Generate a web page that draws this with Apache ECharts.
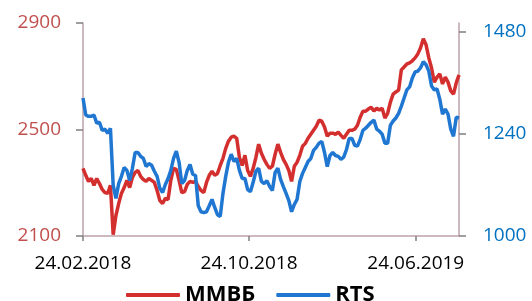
<!DOCTYPE html>
<html>
<head>
<meta charset="utf-8">
<script src="https://cdn.jsdelivr.net/npm/echarts@6/dist/echarts.min.js"></script>
<style>
  html, body { margin: 0; padding: 0; background: #fff; }
  #chart { width: 532px; height: 301px; }
</style>
</head>
<body>
<div id="chart"></div>
<script>
  // ММВБ, левая шкала (одна точка на 4 дня)
  const mmvb = [
    2354, 2328, 2305, 2316, 2290, 2316, 2297, 2275, 2263, 2260,
    2290, 2105, 2177, 2222, 2260, 2282, 2309, 2282, 2320, 2339,
    2346, 2324, 2312, 2305, 2316, 2309, 2301, 2271, 2233, 2222,
    2241, 2237, 2309, 2354, 2350, 2309, 2263, 2267, 2294, 2305,
    2301, 2305, 2286, 2271, 2263, 2301, 2328, 2343, 2328, 2335,
    2365, 2392, 2429, 2456, 2471, 2475, 2467, 2395, 2365, 2403,
    2346, 2324, 2354, 2395, 2445, 2411, 2388, 2369, 2354, 2362,
    2407, 2445, 2414, 2388, 2369, 2346, 2305, 2362, 2377, 2403,
    2437, 2448, 2467, 2482, 2497, 2512, 2535, 2531, 2509, 2475,
    2486, 2486, 2482, 2490, 2478, 2467, 2482, 2497, 2497, 2501,
    2516, 2546, 2569, 2569, 2577, 2584, 2569, 2580, 2573, 2580,
    2543, 2561, 2603, 2633, 2641, 2648, 2724, 2735, 2746, 2750,
    2758, 2769, 2784, 2807, 2841, 2818, 2769, 2731, 2678, 2697,
    2709, 2671, 2697, 2678, 2645, 2633, 2675, 2705
  ];
  // RTS, правая шкала
  const rts = [
    1324, 1284, 1281, 1281, 1284, 1265, 1267, 1248, 1251, 1241,
    1253, 1119, 1088, 1123, 1140, 1161, 1154, 1130, 1159, 1196,
    1196, 1187, 1182, 1163, 1170, 1166, 1152, 1140, 1112, 1102,
    1121, 1135, 1154, 1182, 1199, 1173, 1123, 1130, 1154, 1168,
    1145, 1142, 1071, 1057, 1055, 1057, 1071, 1086, 1067, 1050,
    1046, 1100, 1140, 1173, 1192, 1175, 1182, 1154, 1135, 1135,
    1109, 1104, 1126, 1152, 1159, 1128, 1123, 1130, 1116, 1107,
    1149, 1159, 1133, 1116, 1100, 1083, 1057, 1074, 1086, 1128,
    1147, 1161, 1175, 1182, 1201, 1208, 1218, 1222, 1196, 1163,
    1189, 1196, 1189, 1187, 1180, 1185, 1203, 1229, 1229, 1213,
    1211, 1227, 1248, 1253, 1260, 1267, 1272, 1251, 1246, 1239,
    1218, 1218, 1260, 1270, 1277, 1288, 1305, 1324, 1343, 1350,
    1371, 1385, 1387, 1395, 1409, 1402, 1387, 1352, 1343, 1345,
    1321, 1286, 1298, 1286, 1251, 1234, 1279, 1277
  ];
  const startDate = new Date(2018, 1, 24);
  const stepDays = 4;
  const tickDates = [new Date(2018, 1, 24), new Date(2018, 9, 24), new Date(2019, 5, 24)];
  const leftTicks = [2100, 2500, 2900];
  const rightTicks = [1000, 1240, 1480];

  const DAY = 86400000;
  // ось X в днях от начальной даты
  const days = mmvb.map((_, i) => i * stepDays);
  const dayTicks = tickDates.map(d => Math.round((d - startDate) / DAY));

  function fmtDate(v) {
    const d = new Date(startDate);
    d.setDate(d.getDate() + Math.round(v));
    const p = n => (n < 10 ? '0' : '') + n;
    return p(d.getDate()) + '.' + p(d.getMonth() + 1) + '.' + d.getFullYear();
  }

  const axisColor = '#BDA2A9';
  const font = 'Open Sans';

  const chart = echarts.init(document.getElementById('chart'));
  chart.setOption({
    animation: false,
    grid: { left: 83, right: 73, top: 23, bottom: 65 },
    legend: {
      data: ['ММВБ', 'RTS'],
      left: 121,
      top: 279,
      icon: 'roundRect',
      itemWidth: 54,
      itemHeight: 4,
      itemGap: 21,
      textStyle: { fontFamily: font, fontWeight: 'bold', fontSize: 22, color: '#000' }
    },
    xAxis: {
      type: 'value',
      min: 0,
      max: days[days.length - 1],
      axisLine: { lineStyle: { color: axisColor, width: 1.5 } },
      axisTick: { show: true, customValues: dayTicks, length: 5, lineStyle: { color: '#808080', width: 1.5 } },
      axisLabel: {
        customValues: dayTicks,
        formatter: fmtDate,
        fontFamily: font,
        fontSize: 19,
        color: '#000',
        margin: 18
      },
      splitLine: { show: false }
    },
    yAxis: [
      {
        type: 'value',
        position: 'left',
        min: 2100,
        max: 2900,
        axisLine: { show: true, lineStyle: { color: axisColor, width: 1.5 } },
        axisTick: { show: true, customValues: leftTicks, length: 7, lineStyle: { color: '#808080', width: 1.5 } },
        axisLabel: {
          customValues: leftTicks, formatter: v => String(v),
          fontFamily: font, fontSize: 19, color: '#C0504D', margin: 22
        },
        splitLine: { show: false }
      },
      {
        type: 'value',
        position: 'right',
        min: 1000,
        max: 1500,
        axisLine: { show: true, lineStyle: { color: axisColor, width: 1.5 } },
        axisTick: { show: true, customValues: rightTicks, length: 7, lineStyle: { color: '#808080', width: 1.5 } },
        axisLabel: {
          customValues: rightTicks, formatter: v => String(v),
          fontFamily: font, fontSize: 19, color: '#0070C0', margin: 24
        },
        splitLine: { show: false }
      }
    ],
    series: [
      {
        name: 'ММВБ',
        type: 'line',
        yAxisIndex: 0,
        showSymbol: false,
        color: '#D42F2F',
        lineStyle: { width: 3.5, color: '#D42F2F' },
        data: days.map((t, i) => [t, mmvb[i]])
      },
      {
        name: 'RTS',
        type: 'line',
        yAxisIndex: 1,
        showSymbol: false,
        color: '#1F77D2',
        lineStyle: { width: 3.5, color: '#1F77D2' },
        data: days.map((t, i) => [t, rts[i]])
      }
    ]
  });
</script>
</body>
</html>
